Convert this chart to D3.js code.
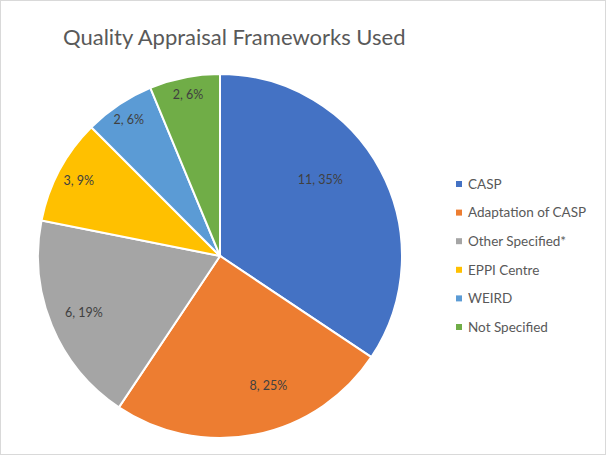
<!DOCTYPE html>
<html><head><meta charset="utf-8">
<script src="https://cdn.jsdelivr.net/npm/d3@7"></script>
<style>body{margin:0;background:#fff}svg{display:block}</style>
</head><body>
<svg id="c" width="606" height="455"></svg>
<script>
const categories = ["CASP","Adaptation of CASP","Other Specified*","EPPI Centre","WEIRD","Not Specified"];
const values = [11, 8, 6, 3, 2, 2];
const percentLabels = ["35%","25%","19%","9%","6%","6%"];
const colors = ["#4472C4","#ED7D31","#A5A5A5","#FFC000","#5B9BD5","#70AD47"];
const title = "Quality Appraisal Frameworks Used";

const svg = d3.select("#c");
svg.append("rect").attr("x",0.5).attr("y",0.5).attr("width",605).attr("height",454)
  .attr("fill","#fff").attr("stroke","#d9d9d9");

svg.append("text").attr("x",63).attr("y",45).text(title)
  .attr("font-family","Lato, 'Open Sans', sans-serif").attr("font-size",22).attr("fill","#595959");

const cx = 220, cy = 256, r = 182;
const total = d3.sum(values);
const pie = d3.pie().sort(null).value(d => d)(values);
const arc = d3.arc().innerRadius(0).outerRadius(r);
const g = svg.append("g").attr("transform",`translate(${cx},${cy})`);
g.selectAll("path").data(pie).join("path")
  .attr("d",arc).attr("fill",(d,i)=>colors[i]).attr("stroke","#fff").attr("stroke-width",2);

g.selectAll("text").data(pie).join("text")
  .attr("transform",d=>{
    const frac = d.value/total;
    const R = r*(0.95-0.75*frac);
    const a = (d.startAngle+d.endAngle)/2 - (frac > 0.2 ? 0.16 : 0);
    return `translate(${R*Math.sin(a)},${-R*Math.cos(a)})`;
  })
  .attr("text-anchor","middle").attr("dy","0.35em")
  .attr("font-family","Lato, 'Open Sans', sans-serif").attr("font-size",12.5).attr("fill","#404040")
  .text((d,i)=>`${values[i]}, ${percentLabels[i]}`);

const leg = svg.append("g");
const y0 = 184, step = 28.6;
categories.forEach((c,i)=>{
  leg.append("rect").attr("x",456).attr("y",y0+i*step-3).attr("width",6).attr("height",6).attr("fill",colors[i]);
  leg.append("text").attr("x",468).attr("y",y0+i*step).attr("dy","0.35em").text(c)
    .attr("font-family","Lato, 'Open Sans', sans-serif").attr("font-size",13.5).attr("fill","#595959");
});
</script>
</body></html>
